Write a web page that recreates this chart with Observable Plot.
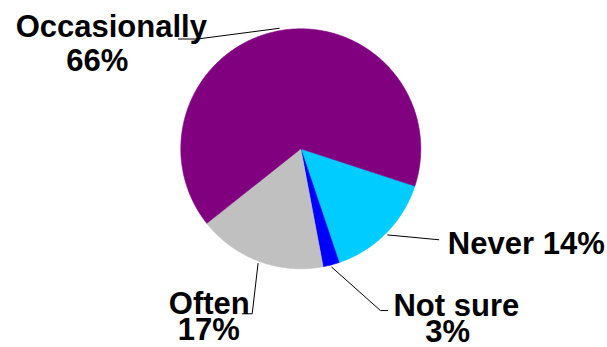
<!DOCTYPE html>
<html><head><meta charset="utf-8">
<script src="https://cdn.jsdelivr.net/npm/d3@7"></script>
<script src="https://cdn.jsdelivr.net/npm/@observablehq/plot@0.6"></script>
<style>html,body{margin:0;padding:0;background:#fff;}</style>
</head><body><div id="chart"></div>
<script>
// ---- data ----
const categories = ["Never", "Not sure", "Often", "Occasionally"];
const values = [14.8, 2.2, 17.3, 65.7];
const pctLabels = ["14%", "3%", "17%", "66%"];
const colors = ["#00CCFF", "#0000FF", "#C0C0C0", "#800080"];
const startDeg = 108.1; // first slice begins here, clockwise from 12 o'clock

// ---- layout (pie units: radius = 1) ----
const labelLayout = [
  ["Occasionally", "name", -1.579, 1.018],
  ["Occasionally", "pct", -1.697, 0.729],
  ["Never", "both", 1.879, -0.793],
  ["Not sure", "name", 1.296, -1.307],
  ["Not sure", "pct", 1.224, -1.528],
  ["Often", "name", -0.763, -1.293],
  ["Often", "pct", -0.767, -1.514]
];
// leader line bends (after the start point on the rim)
const leaderBends = {
  "Occasionally": [[-0.861, 0.915], [-1.019, 0.915]],
  "Never": [[1.15, -0.758]],
  "Not sure": [[0.664, -1.348], [0.725, -1.348]],
  "Often": [[-0.405, -1.375], [-0.488, -1.375]]
};

const t0 = startDeg * Math.PI / 180;
const arcs = d3.pie().sort(null).startAngle(t0).endAngle(t0 + 2 * Math.PI)(values);

const slicePts = [];
arcs.forEach((a, i) => {
  const name = categories[i];
  slicePts.push({name, x: 0, y: 0});
  const n = Math.max(2, Math.ceil((a.endAngle - a.startAngle) / (Math.PI / 360)));
  for (let k = 0; k <= n; k++) {
    const t = a.startAngle + (a.endAngle - a.startAngle) * k / n;
    slicePts.push({name, x: Math.sin(t), y: Math.cos(t)});
  }
  slicePts.push({name, x: 0, y: 0});
});

const leaderPts = [];
arcs.forEach((a, i) => {
  const name = categories[i];
  const m = (a.startAngle + a.endAngle) / 2;
  leaderPts.push({name, x: 1.02 * Math.sin(m), y: 1.02 * Math.cos(m)});
  for (const [u, v] of leaderBends[name]) leaderPts.push({name, x: u, y: v});
});

const texts = labelLayout.map(([cat, kind, u, v]) => {
  const i = categories.indexOf(cat);
  const text = kind === "name" ? cat : kind === "pct" ? pctLabels[i] : cat + " " + pctLabels[i];
  return {text, x: u, y: v};
});

const cx = 300.3, cy = 148.3, R = 120;
const chart = Plot.plot({
  width: 607,
  height: 347,
  margin: 0,
  style: {background: "#fff", overflow: "visible"},
  x: {domain: [-1, 1], range: [cx - R, cx + R], axis: null},
  y: {domain: [-1, 1], range: [cy + R, cy - R], axis: null},
  color: {domain: categories, range: colors},
  marks: [
    Plot.line(slicePts, {x: "x", y: "y", z: "name", fill: "name", stroke: "name", strokeWidth: 0.6, curve: "linear"}),
    Plot.line(leaderPts, {x: "x", y: "y", z: "name", stroke: "#000", strokeWidth: 1, curve: "linear"}),
    Plot.text(texts, {x: "x", y: "y", text: "text", textAnchor: "middle", lineAnchor: "middle",
      fontSize: 31, fontWeight: "bold", fontFamily: "'Liberation Sans', Arial, sans-serif", fill: "#000"})
  ]
});
document.getElementById("chart").appendChild(chart);
</script>
</body></html>
